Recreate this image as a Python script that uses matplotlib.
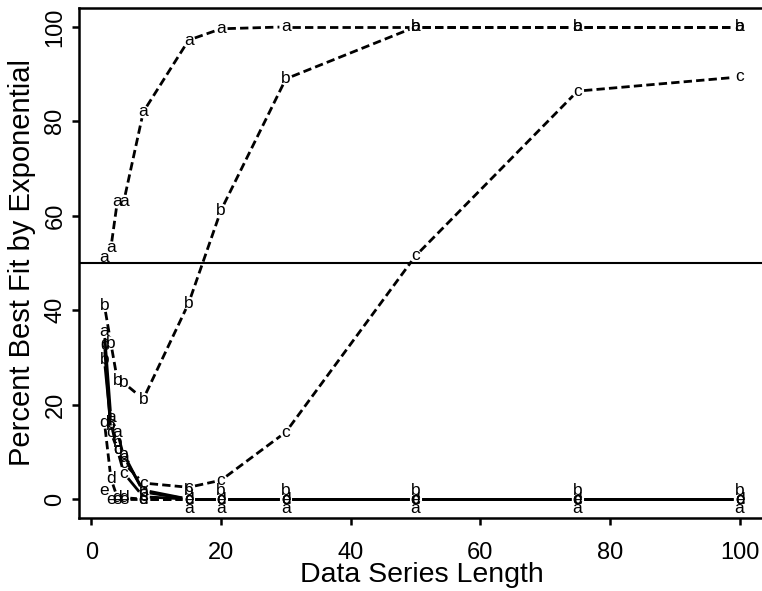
import numpy as np
import matplotlib.pyplot as plt

# series length on the x axis
lengths = [2, 3, 4, 5, 8, 15, 20, 30, 50, 75, 100]

# data generated by exponential model (dashed lines)
exp_a = [51.2, 53.2, 63.1, 63.1, 82.0, 97.2, 99.6, 100, 100, 100, 100]
exp_b = [41.0, 33.0, 25.2, 24.6, 21.2, 41.5, 61.2, 89.0, 100, 100, 100]
exp_c = [33.0, 16.0, 10.5, 7.6, 3.4, 2.5, 4.0, 14.2, 51.5, 86.4, 89.4]
exp_d = [16.3, 4.4, 0.3, 0.3, 0, 0, 0, 0, 0, 0, 0]
exp_e = [1.8, 0, 0, 0, 0, 0, 0, 0, 0, 0, 0]

# data generated by the other model (solid lines)
oth_a = [35.5, 17.2, 14.2, 8.9, 1.9, 0, 0, 0, 0, 0, 0]
oth_b = [29.5, 15.5, 12.0, 9.5, 1.5, 0, 0, 0, 0, 0, 0]
oth_c = [32.5, 14.2, 10.5, 5.5, 0.5, 0, 0, 0, 0, 0, 0]

reference_line = 50

series = [
    (exp_a, "a", "dashed", 0),
    (exp_b, "b", "dashed", 0),
    (exp_c, "c", "dashed", 0),
    (exp_d, "d", "dashed", 0),
    (exp_e, "e", "dashed", 0),
    (oth_c, "c", "solid", 0),
    (oth_b, "b", "solid", 9),
    (oth_a, "a", "solid", -9),
]

plt.rcParams["font.family"] = ["Liberation Sans", "DejaVu Sans"]

fig = plt.figure(figsize=(7.62, 5.91), dpi=100)
W, H = 762, 591
left, right, top, bottom = 79, 765, 8, 518
ax = fig.add_axes([left / W, (H - bottom) / H, (right - left) / W, (bottom - top) / H])
ax.set_xlim(-1.92, 103.92)
ax.set_ylim(-4, 104)

ax.axhline(reference_line, color="black", lw=1.5, zorder=1)

# lines with gaps around the letters (like R type="b")
gap = 6.5
trans = ax.transData
for vals, letter, style, off in series:
    ls = (0, (3.0, 1.5)) if style == "dashed" else "-"
    pts = trans.transform(np.column_stack([lengths, vals]))
    for i in range(len(pts) - 1):
        p0, p1 = pts[i], pts[i + 1]
        d = p1 - p0
        n = np.hypot(*d)
        if n <= 2 * gap:
            continue
        u = d / n
        q = trans.inverted().transform(np.array([p0 + u * gap, p1 - u * gap]))
        ax.plot(q[:, 0], q[:, 1], color="black", lw=2.0, linestyle=ls,
                solid_capstyle="butt", dash_capstyle="butt", zorder=2)

for vals, letter, style, off in series:
    for x, y in zip(lengths, vals):
        dy = off if y == 0 else 0
        ax.annotate(letter, (x, y), xytext=(0, dy), textcoords="offset pixels",
                    ha="center", va="center", fontsize=12.5, zorder=3)

ax.set_xticks([0, 20, 40, 60, 80, 100])
ax.set_yticks([0, 20, 40, 60, 80, 100])
ax.tick_params(axis="both", direction="out", length=5, width=1.8, labelsize=17)
ax.tick_params(axis="x", pad=12)
ax.tick_params(axis="y", pad=4)
for lab in ax.get_yticklabels():
    lab.set_rotation(90)
    lab.set_va("center")
for sp in ax.spines.values():
    sp.set_linewidth(1.8)

ax.set_xlabel("Data Series Length", fontsize=20.5, labelpad=-1)
ax.set_ylabel("Percent Best Fit by Exponential", fontsize=21, labelpad=6)

fig.savefig("out.png", dpi=100)
